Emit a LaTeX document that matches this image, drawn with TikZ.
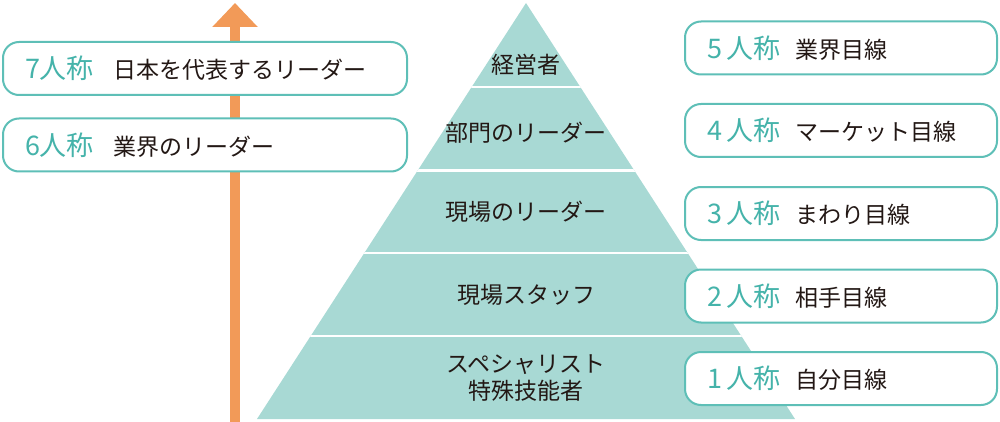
\documentclass[tikz,border=0pt]{standalone}
\usepackage{fontspec}
\newfontfamily\jpfont{Noto Sans CJK JP}
\usetikzlibrary{arrows.meta}
\definecolor{pyr}{HTML}{A8D9D4}
\definecolor{tealline}{HTML}{5EBFB7}
\definecolor{tealtext}{HTML}{45B3AA}
\definecolor{arrorange}{HTML}{F29A58}
\definecolor{ink}{HTML}{231815}
\newcommand{\ninsho}[1]{\makebox[88pt][l]{\color{tealtext}\fontsize{27}{27}\selectfont #1}}

\begin{document}
\begin{tikzpicture}[x=1pt,y=-1pt,
	every node/.style={font=\jpfont\fontsize{23}{27}\selectfont,text=ink},
	lvbox/.style={draw=tealline,line width=2pt,fill=white,rounded corners=16pt,
		minimum height=53pt,inner xsep=22pt,align=left}]
	\useasboundingbox (0,0) rectangle (1000,422);
	% orange arrow
	\coordinate (bot) at (235,422);
	\coordinate (top) at (235,3);
	\draw[arrorange,line width=9.5pt,-{Triangle[width=44pt,length=24pt]}] (bot) -- (top);
	% pyramid
	\fill[pyr] (526,3) -- (795,419) -- (257,419) -- cycle;
	\begin{scope}
		\clip (526,3) -- (795,419) -- (257,419) -- cycle;
		\foreach \y in {87,170.5,253,336}
			\draw[white,line width=2.5pt] (250,\y) -- (800,\y);
	\end{scope}
	\node (l5) at (526,65) {経営者};
	\node (l4) at (526,133) {部門のリーダー};
	\node (l3) at (526,212) {現場のリーダー};
	\node (l2) at (526,295) {現場スタッフ};
	\node[align=center] (l1) at (526,378) {スペシャリスト\\特殊技能者};
	% left boxes
	\node[lvbox,text width=360pt] (b7) at (205,68.5) {\ninsho{7人称}日本を代表するリーダー};
	\node[lvbox,text width=360pt] (b6) at (205,145) {\ninsho{6人称}業界のリーダー};
	% right boxes
	\foreach \n/\y/\t in {5/48/業界目線,4/130.5/マーケット目線,3/213.5/まわり目線,2/296/相手目線,1/378.5/自分目線}
		\node[lvbox,text width=268pt] (b\n) at (841,\y) {\ninsho{\n\hbox to 5pt{}人称}\t};
\end{tikzpicture}
\end{document}
